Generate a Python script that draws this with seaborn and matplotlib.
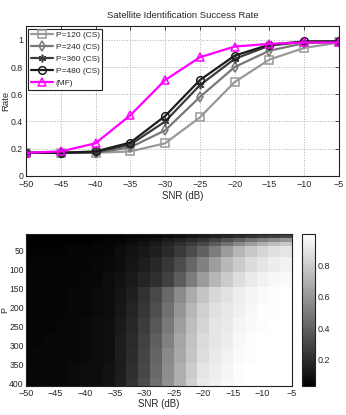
import numpy as np
import pandas as pd
import matplotlib
matplotlib.use("Agg")
import matplotlib.pyplot as plt
import seaborn as sns

sns.set_style("white")
plt.rcParams["font.family"] = ["Liberation Sans Narrow", "Liberation Sans", "DejaVu Sans"]
plt.rcParams["font.size"] = 6.5

# ---- top panel: success rate vs SNR ----
snr = [-50, -45, -40, -35, -30, -25, -20, -15, -10, -5]
rate_p120 = [0.17, 0.17, 0.17, 0.18, 0.24, 0.43, 0.69, 0.855, 0.94, 0.98]
rate_p240 = [0.17, 0.17, 0.17, 0.21, 0.335, 0.58, 0.80, 0.92, 0.975, 0.983]
rate_p360 = [0.17, 0.17, 0.175, 0.23, 0.40, 0.667, 0.86, 0.957, 0.985, 0.988]
rate_p480 = [0.17, 0.17, 0.18, 0.245, 0.44, 0.704, 0.884, 0.964, 0.988, 0.988]
rate_mf = [0.17, 0.18, 0.24, 0.446, 0.704, 0.872, 0.95, 0.97, 0.98, 0.98]

series_names = ["P=120 (CS)", "P=240 (CS)", "P=360 (CS)", "P=480 (CS)", "(MF)"]
series_vals = [rate_p120, rate_p240, rate_p360, rate_p480, rate_mf]
series_colors = ["#999999", "#777777", "#3c3c3c", "#1c1c1c", "#ff00ff"]
series_markers = ["s", "d", (6, 2, 0), "o", "^"]

# ---- bottom panel: rate map over SNR and P ----
map_snr = [-50, -48, -46, -44, -42, -40, -38, -36, -34, -32, -30, -28,
           -26, -24, -22, -20, -18, -16, -14, -12, -10, -8, -6]
map_p = list(range(10, 410, 10))

rate_p10 = [0.03, 0.03, 0.03, 0.03, 0.03, 0.03, 0.03, 0.04, 0.04, 0.05, 0.05, 0.06,
            0.07, 0.08, 0.10, 0.13, 0.15, 0.18, 0.20, 0.23, 0.25, 0.27, 0.29]
rate_p20 = [0.03, 0.03, 0.03, 0.03, 0.03, 0.03, 0.04, 0.05, 0.05, 0.07, 0.08, 0.10,
            0.13, 0.16, 0.19, 0.22, 0.28, 0.34, 0.40, 0.46, 0.51, 0.56, 0.60]
rate_p30 = [0.03, 0.03, 0.03, 0.03, 0.04, 0.04, 0.05, 0.05, 0.06, 0.08, 0.10, 0.13,
            0.17, 0.21, 0.25, 0.30, 0.38, 0.46, 0.55, 0.63, 0.69, 0.75, 0.79]
rate_p40_60 = [0.04, 0.04, 0.04, 0.04, 0.05, 0.05, 0.05, 0.06, 0.08, 0.10, 0.12, 0.15,
               0.19, 0.25, 0.32, 0.40, 0.50, 0.62, 0.72, 0.79, 0.84, 0.88, 0.90]
rate_p70_100 = [0.05, 0.05, 0.05, 0.05, 0.05, 0.05, 0.06, 0.07, 0.08, 0.11, 0.14, 0.18,
                0.24, 0.32, 0.42, 0.52, 0.63, 0.73, 0.80, 0.86, 0.90, 0.93, 0.95]
rate_p110_140 = [0.05, 0.05, 0.05, 0.05, 0.05, 0.06, 0.06, 0.08, 0.10, 0.13, 0.17, 0.21,
                 0.28, 0.38, 0.50, 0.62, 0.72, 0.80, 0.87, 0.92, 0.95, 0.97, 0.98]
rate_p150_180 = [0.05, 0.05, 0.05, 0.05, 0.06, 0.06, 0.07, 0.08, 0.11, 0.15, 0.22, 0.31,
                 0.43, 0.56, 0.68, 0.78, 0.85, 0.89, 0.93, 0.96, 0.98, 0.99, 1.00]
rate_p190_220 = [0.05, 0.05, 0.05, 0.05, 0.06, 0.06, 0.07, 0.08, 0.12, 0.17, 0.24, 0.33,
                 0.46, 0.60, 0.72, 0.82, 0.88, 0.91, 0.94, 0.97, 0.99, 0.99, 1.00]
rate_p230_260 = [0.05, 0.05, 0.05, 0.06, 0.06, 0.07, 0.08, 0.09, 0.13, 0.18, 0.26, 0.36,
                 0.49, 0.63, 0.75, 0.84, 0.90, 0.92, 0.96, 0.98, 0.99, 1.00, 1.00]
rate_p270_300 = [0.05, 0.05, 0.06, 0.06, 0.06, 0.07, 0.08, 0.09, 0.14, 0.19, 0.28, 0.39,
                 0.52, 0.66, 0.77, 0.86, 0.90, 0.93, 0.97, 0.99, 1.00, 1.00, 1.00]
rate_p310_340 = [0.05, 0.06, 0.06, 0.06, 0.06, 0.07, 0.08, 0.09, 0.14, 0.20, 0.29, 0.41,
                 0.55, 0.67, 0.78, 0.87, 0.92, 0.95, 0.98, 0.99, 1.00, 1.00, 1.00]
rate_p350_380 = [0.06, 0.06, 0.06, 0.06, 0.07, 0.08, 0.08, 0.10, 0.14, 0.21, 0.30, 0.43,
                 0.57, 0.69, 0.80, 0.90, 0.93, 0.96, 0.99, 1.00, 1.00, 1.00, 1.00]
rate_p390_400 = [0.06, 0.06, 0.06, 0.06, 0.07, 0.08, 0.08, 0.10, 0.15, 0.22, 0.32, 0.45,
                 0.58, 0.70, 0.82, 0.92, 0.94, 0.97, 0.99, 1.00, 1.00, 1.00, 1.00]

# (first P, last P, profile) for each band of rows
bands = [
    (10, 10, rate_p10), (20, 20, rate_p20), (30, 30, rate_p30),
    (40, 60, rate_p40_60), (70, 100, rate_p70_100), (110, 140, rate_p110_140),
    (150, 180, rate_p150_180), (190, 220, rate_p190_220), (230, 260, rate_p230_260),
    (270, 300, rate_p270_300), (310, 340, rate_p310_340), (350, 380, rate_p350_380),
    (390, 400, rate_p390_400),
]

rows = []
for p in map_p:
    for lo, hi, prof in bands:
        if lo <= p <= hi:
            rows.append(prof)
            break
rate_map = pd.DataFrame(rows, index=map_p, columns=map_snr)

fig = plt.figure(figsize=(3.46, 4.15), dpi=100)
ax1 = fig.add_axes([0.075, 0.576, 0.905, 0.361])
ax2 = fig.add_axes([0.075, 0.070, 0.769, 0.365])
cax = fig.add_axes([0.873, 0.070, 0.037, 0.365])

for name, vals, col, mk in zip(series_names, series_vals, series_colors, series_markers):
    sns.lineplot(x=snr, y=vals, ax=ax1, color=col, marker=mk, label=name,
                 linewidth=1.6, markersize=5.5, markerfacecolor="none",
                 markeredgecolor=col, markeredgewidth=1.1)

ax1.set_xlim(-50, -5)
ax1.set_ylim(0, 1.1)
ax1.set_xticks(snr)
ax1.set_xticklabels([str(s).replace("-", "\u2212") for s in snr])
ax1.set_yticks([0, 0.2, 0.4, 0.6, 0.8, 1.0])
ax1.set_yticklabels(["0", "0.2", "0.4", "0.6", "0.8", "1"])
ax1.grid(True, linestyle=":", color="#b0b0b0", linewidth=0.7)
ax1.set_xlabel("SNR (dB)", labelpad=1, fontsize=7)
ax1.set_ylabel("Rate", fontsize=6.8)
ax1.yaxis.set_label_coords(-0.051, 0.5)
ax1.set_title("Satellite Identification Success Rate", fontsize=6.8, pad=6)
ax1.tick_params(axis="x", direction="in", length=3, width=0.6, pad=3, top=True)
ax1.tick_params(axis="y", direction="in", length=3, width=0.6, pad=2, right=True,
                labelsize=6.3)
for sp in ax1.spines.values():
    sp.set_linewidth(0.8)
    sp.set_color("#222222")
leg = ax1.legend(loc="upper left", fontsize=6, handlelength=2.6, borderpad=0.35,
                 labelspacing=0.5, handletextpad=0.3, fancybox=False,
                 edgecolor="#222222", framealpha=1, borderaxespad=0.3)
leg.get_frame().set_linewidth(0.8)

sns.heatmap(rate_map, ax=ax2, cbar_ax=cax, cmap="gray", vmin=0.03, vmax=1.0)

# heatmap cell i spans [i, i+1]; column centre i+0.5 sits at SNR -50+2i
xt = [-50, -45, -40, -35, -30, -25, -20, -15, -10, -5]
ax2.set_xticks([(s + 50) / 2 + 0.5 for s in xt])
ax2.set_xticklabels([str(s).replace("-", "\u2212") for s in xt], rotation=0)
yt = [50, 100, 150, 200, 250, 300, 350, 400]
ax2.set_yticks([p / 10 - 0.5 for p in yt])
ax2.set_yticklabels([str(p) for p in yt], rotation=0)
ax2.set_xlim(0.5, 23)
ax2.set_ylim(40, 0)
ax2.set_xlabel("SNR (dB)", labelpad=1, fontsize=7)
ax2.set_ylabel("P", fontsize=6.5)
ax2.yaxis.set_label_coords(-0.062, 0.5)
ax2.tick_params(axis="x", direction="in", length=3, width=0.6, pad=2, top=True,
                bottom=True, labelsize=6.5)
ax2.tick_params(axis="y", direction="in", length=3, width=0.6, pad=1.5, right=True,
                left=True, labelsize=6.2)
for sp in ax2.spines.values():
    sp.set_visible(True)
    sp.set_linewidth(0.8)
    sp.set_color("#222222")

cb = ax2.collections[0].colorbar
cb.outline.set_visible(True)
cb.outline.set_linewidth(0.8)
cb.outline.set_edgecolor("#222222")
cb.set_ticks([0.2, 0.4, 0.6, 0.8])
cb.set_ticklabels(["0.2", "0.4", "0.6", "0.8"])
cax.tick_params(direction="in", length=3, width=0.6, pad=2, labelsize=6.5, left=True)

fig.savefig("out.png", dpi=100)
